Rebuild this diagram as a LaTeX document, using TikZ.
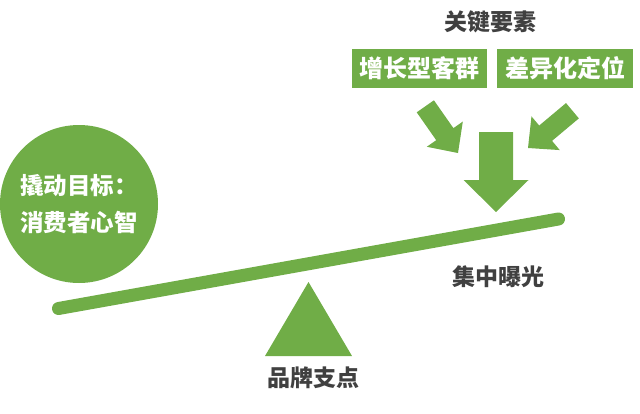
\documentclass[tikz,border=0pt]{standalone}
\usepackage{fontspec}
\newfontfamily\cjk{Noto Sans CJK SC}
\usetikzlibrary{positioning}
\definecolor{colGreen}{HTML}{70AD47}
\definecolor{colLabel}{HTML}{404040}

\begin{document}
\begin{tikzpicture}[x=1pt, y=-1pt, font=\cjk\bfseries\fontsize{23}{27}\selectfont]
  % Parameters
  \def\barWidth{13}
  \def\boxHeight{39}
  \useasboundingbox (0,0) rectangle (640,413);

  % Draw Target Circle (left end of the lever)
  \node[circle, fill=colGreen, text=white, minimum size=158, inner sep=0, align=left, font=\cjk\bfseries\fontsize{23.5}{27}\selectfont] (target) at (79,204) {撬动目标：\\[10pt]消费者心智};

  % Draw Lever Bar
  \coordinate (barLeft) at (58.5,308.5);
  \coordinate (barRight) at (558.5,219);
  \draw[colGreen, line width=\barWidth, line cap=round] (barLeft) -- (barRight);

  % Draw Pivot Triangle
  \coordinate (pivot) at (308.5,282);
  \fill[colGreen] (pivot) -- (352,356) -- (265,356) -- cycle;
  \node[text=colLabel] (pivotLabel) at (313,378) {品牌支点};

  % Exposure label under the right end
  \node[text=colLabel] (exposure) at (498,277) {集中曝光};

  % Key factors
  \node[text=colLabel] (keys) at (490,22) {关键要素};
  \node[fill=colGreen, text=white, minimum width=135, minimum height=\boxHeight, inner sep=0, font=\cjk\bfseries\fontsize{24}{28}\selectfont] (growth) at (419.5,68.5) {增长型客群};
  \node[fill=colGreen, text=white, minimum width=136, minimum height=\boxHeight, inner sep=0, font=\cjk\bfseries\fontsize{24}{28}\selectfont, right=10pt of growth] (position) {差异化定位};

  % Draw Block Arrows
  % tip x / tip y / angle / length / shaft half width / head half width / head length
  \foreach \tx/\ty/\ang/\len/\sw/\hw/\hl in {458/153/-55/57/10.5/22/23, 528/148/-140/58/10/22/23, 496/212/-90/80/17/32.5/32} {
    \fill[colGreen, shift={(\tx,\ty)}, rotate=\ang] (0,0) -- (-\hl,\hw) -- (-\hl,\sw) -- (-\len,\sw) -- (-\len,-\sw) -- (-\hl,-\sw) -- (-\hl,-\hw) -- cycle;
  }
\end{tikzpicture}
\end{document}
